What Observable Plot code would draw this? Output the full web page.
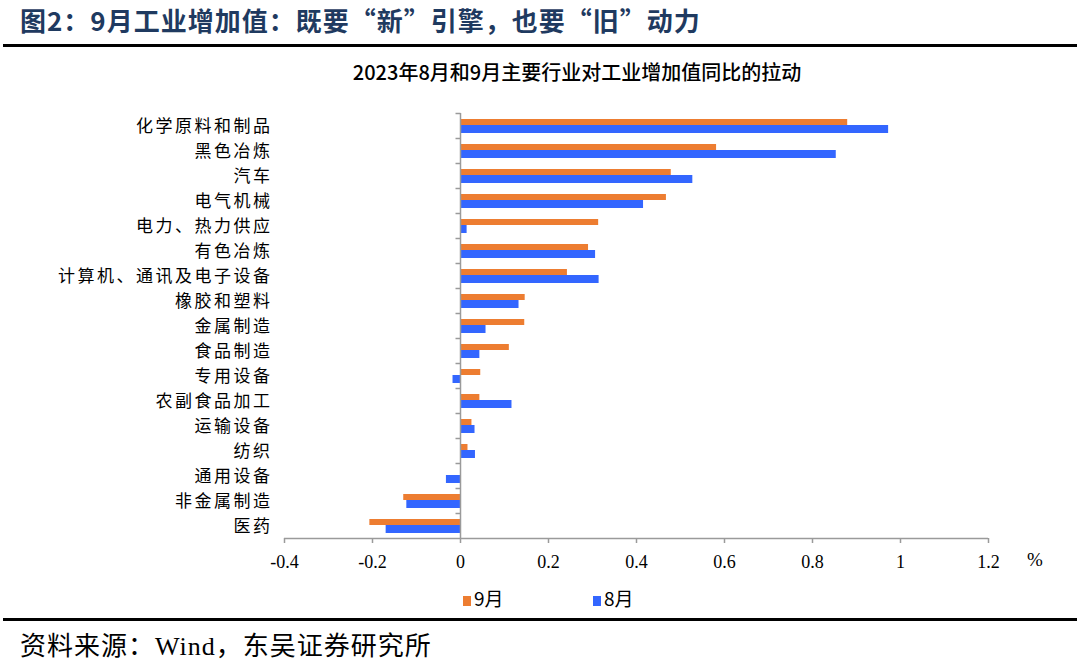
<!DOCTYPE html>
<html><head><meta charset="utf-8">
<script src="https://cdn.jsdelivr.net/npm/d3@7"></script>
<script src="https://cdn.jsdelivr.net/npm/@observablehq/plot@0.6"></script>
<style>
body{margin:0;background:#fff;}
#wrap{position:relative;width:1080px;height:670px;overflow:hidden;font-family:"Noto Sans CJK SC",sans-serif;color:#000;}
#title{position:absolute;left:20px;top:7px;font-size:26px;line-height:26px;font-weight:bold;color:#1f3a60;letter-spacing:1px;white-space:nowrap;}
.hr{position:absolute;left:3px;width:1074px;height:3px;background:#000;}
#subtitle{position:absolute;left:37px;width:1080px;top:61px;text-align:center;font-size:20px;line-height:21px;font-weight:500;white-space:nowrap;}
#chart{position:absolute;left:0;top:85px;}
#pct{position:absolute;left:1027px;top:550px;font-family:"Liberation Serif",serif;font-size:19px;line-height:20px;}
.lg{position:absolute;top:588px;font-size:19px;line-height:20px;white-space:nowrap;}
.sw{display:inline-block;width:8px;height:10px;margin-right:3px;vertical-align:0px;}
#footer{position:absolute;left:20px;top:631px;font-size:26px;line-height:26px;letter-spacing:1px;white-space:nowrap;}
#footer .s{font-family:"Liberation Serif",serif;}
</style></head><body>
<div id="wrap">
  <div id="title">图2：9月工业增加值：既要“新”引擎，也要“旧”动力</div>
  <div class="hr" style="top:44px"></div>
  <div id="subtitle">2023年8月和9月主要行业对工业增加值同比的拉动</div>
  <div id="chart"></div>
  <div id="pct">%</div>
  <div class="lg" style="left:463px"><span class="sw" style="background:#ED7D31"></span>9月</div>
  <div class="lg" style="left:593px"><span class="sw" style="background:#3366FF"></span>8月</div>
  <div class="hr" style="top:618px"></div>
  <div id="footer">资料来源：<span class="s">Wind</span>，东吴证券研究所</div>
</div>
<script>
const categories = ["化学原料和制品","黑色冶炼","汽车","电气机械","电力、热力供应","有色冶炼","计算机、通讯及电子设备","橡胶和塑料","金属制造","食品制造","专用设备","农副食品加工","运输设备","纺织","通用设备","非金属制造","医药"];
const sep = [0.88,0.582,0.479,0.468,0.314,0.291,0.243,0.147,0.146,0.111,0.046,0.044,0.026,0.017,0,-0.129,-0.206];
const aug = [0.973,0.854,0.528,0.416,0.015,0.307,0.315,0.133,0.058,0.044,-0.017,0.117,0.033,0.034,-0.032,-0.122,-0.169];
const xTicks = [-0.4,-0.2,0,0.2,0.4,0.6,0.8,1,1.2];
const seriesColors = {"9月":"#ED7D31","8月":"#3366FF"};

const rows = categories.map((c,i)=>({c, sep:sep[i], aug:aug[i]}));
const H = 500, mT = 28, mB = 47;
const bw = (H - mT - mB) / categories.length;
const tickSym = {draw(ctx){ ctx.moveTo(-5,0); ctx.lineTo(0,0); }};
const axisGray = "#9a9a9a";

const chart = Plot.plot({
  width:1080, height:H,
  marginLeft:284, marginRight:92, marginTop:mT, marginBottom:mB,
  style:{fontFamily:"Noto Sans CJK SC, sans-serif", color:"#000", background:"transparent"},
  x:{domain:[xTicks[0], xTicks[xTicks.length-1]]},
  y:{domain:categories, padding:0},
  marks:[
    Plot.barX(rows, {y:"c", x1:()=>0, x2:"sep", fill:seriesColors["9月"], insetTop:6, insetBottom:13}),
    Plot.barX(rows, {y:"c", x1:()=>0, x2:"aug", fill:seriesColors["8月"], insetTop:12, insetBottom:5}),
    Plot.ruleX([0], {stroke:axisGray, strokeWidth:1.5}),
    Plot.dot(categories, {x:()=>0, y:d=>d, dy:-bw/2, symbol:tickSym, stroke:axisGray, strokeWidth:1.5, fill:"none"}),
    Plot.ruleY([categories[categories.length-1]], {x1:xTicks[0], x2:xTicks[xTicks.length-1], dy:bw/2, stroke:axisGray, strokeWidth:1.5}),
    Plot.axisX({ticks:xTicks, tickSize:5, tickPadding:12, stroke:axisGray, strokeWidth:1.5, fill:"#000", fontSize:18, fontFamily:"Liberation Serif, serif", tickFormat:d=>String(d), label:null}),
    Plot.axisY({tickSize:0, tickPadding:12, fontSize:17, fill:"#000", label:null, dy:1})
  ]
});
chart.querySelectorAll("g[aria-label='y-axis tick label'] text").forEach(t=>t.setAttribute("letter-spacing","2.5"));
document.getElementById("chart").appendChild(chart);
</script>
</body></html>
